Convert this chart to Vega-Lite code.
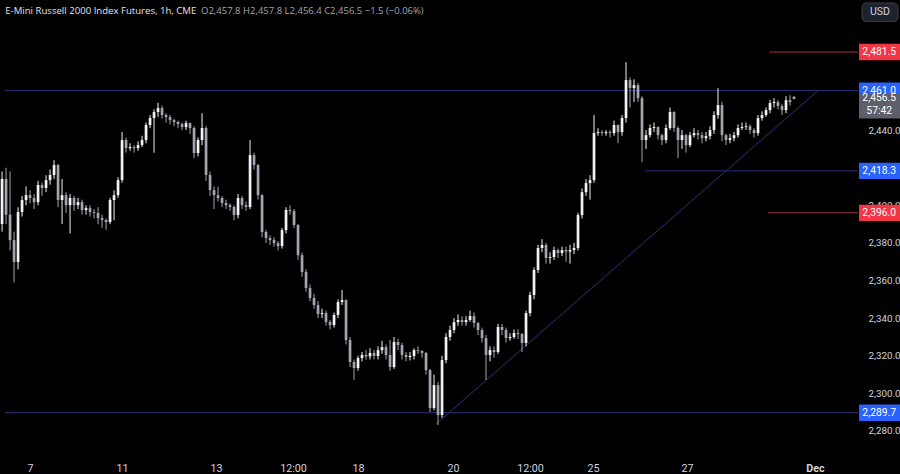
{
  "$schema": "https://vega.github.io/schema/vega-lite/v6.json",
  "width": 905,
  "height": 479,
  "autosize": {"type": "none"},
  "padding": 0,
  "background": "#000000",
  "config": {
    "view": {"stroke": null},
    "axis": {"grid": false, "domain": false, "ticks": false, "labelColor": "#d1d4dc", "labelFont": "Roboto", "labelFontSize": 9.8}
  },
  "datasets": {
    "candles": [
      {"i":0,"o":2390,"h":2418,"l":2386,"c":2414},
      {"i":1,"o":2414,"h":2420,"l":2390,"c":2395},
      {"i":2,"o":2395,"h":2418,"l":2376,"c":2381.5},
      {"i":3,"o":2381.5,"h":2386,"l":2359,"c":2369.8},
      {"i":4,"o":2369.8,"h":2399,"l":2366,"c":2396.4},
      {"i":5,"o":2396.4,"h":2405,"l":2394,"c":2402.8},
      {"i":6,"o":2402.8,"h":2410,"l":2400,"c":2405.4},
      {"i":7,"o":2405.4,"h":2408,"l":2401,"c":2403.9},
      {"i":8,"o":2403.9,"h":2406,"l":2398,"c":2401.7},
      {"i":9,"o":2401.7,"h":2413,"l":2400,"c":2410.8},
      {"i":10,"o":2410.8,"h":2412,"l":2405,"c":2409.2},
      {"i":11,"o":2409.2,"h":2416,"l":2407,"c":2413.4},
      {"i":12,"o":2413.4,"h":2419,"l":2411,"c":2416.1},
      {"i":13,"o":2416.1,"h":2424,"l":2414,"c":2421.4},
      {"i":14,"o":2421.4,"h":2422,"l":2399,"c":2402.8},
      {"i":15,"o":2402.8,"h":2414,"l":2390,"c":2405.4},
      {"i":16,"o":2405.4,"h":2407,"l":2396,"c":2400.1},
      {"i":17,"o":2400.1,"h":2406,"l":2385,"c":2403.9},
      {"i":18,"o":2403.9,"h":2405,"l":2397,"c":2400.1},
      {"i":19,"o":2400.1,"h":2404,"l":2398,"c":2401.7},
      {"i":20,"o":2401.7,"h":2403,"l":2395,"c":2397.5},
      {"i":21,"o":2397.5,"h":2400,"l":2395,"c":2398.5},
      {"i":22,"o":2398.5,"h":2400,"l":2394,"c":2396.4},
      {"i":23,"o":2396.4,"h":2398,"l":2393,"c":2395.9},
      {"i":24,"o":2395.9,"h":2399,"l":2390,"c":2393.2},
      {"i":25,"o":2393.2,"h":2395,"l":2388,"c":2392.2},
      {"i":26,"o":2392.2,"h":2393,"l":2387,"c":2391.1},
      {"i":27,"o":2391.1,"h":2404,"l":2390,"c":2402.8},
      {"i":28,"o":2402.8,"h":2408,"l":2392,"c":2405.4},
      {"i":29,"o":2405.4,"h":2415,"l":2404,"c":2413.4},
      {"i":30,"o":2413.4,"h":2439,"l":2412,"c":2434.7},
      {"i":31,"o":2434.7,"h":2436,"l":2428,"c":2430.4},
      {"i":32,"o":2430.4,"h":2433,"l":2429,"c":2431.0},
      {"i":33,"o":2431.0,"h":2432,"l":2428,"c":2430.4},
      {"i":34,"o":2430.4,"h":2434,"l":2429,"c":2432.0},
      {"i":35,"o":2432.0,"h":2437,"l":2431,"c":2434.7},
      {"i":36,"o":2434.7,"h":2444,"l":2433,"c":2442.7},
      {"i":37,"o":2442.7,"h":2448,"l":2441,"c":2446.4},
      {"i":38,"o":2446.4,"h":2451,"l":2428,"c":2449.6},
      {"i":39,"o":2449.6,"h":2454.5,"l":2447,"c":2451.7},
      {"i":40,"o":2451.7,"h":2453,"l":2446,"c":2448.0},
      {"i":41,"o":2448.0,"h":2449,"l":2444,"c":2446.9},
      {"i":42,"o":2446.9,"h":2448,"l":2443,"c":2445.3},
      {"i":43,"o":2445.3,"h":2446,"l":2442,"c":2444.3},
      {"i":44,"o":2444.3,"h":2445,"l":2441,"c":2443.2},
      {"i":45,"o":2443.2,"h":2444,"l":2440,"c":2441.6},
      {"i":46,"o":2441.6,"h":2445,"l":2440,"c":2443.7},
      {"i":47,"o":2443.7,"h":2444,"l":2438,"c":2441.1},
      {"i":48,"o":2441.1,"h":2442,"l":2425,"c":2427.8},
      {"i":49,"o":2427.8,"h":2436,"l":2426,"c":2434.7},
      {"i":50,"o":2434.7,"h":2449,"l":2432,"c":2441.1},
      {"i":51,"o":2441.1,"h":2442,"l":2413,"c":2416.1},
      {"i":52,"o":2416.1,"h":2418,"l":2405,"c":2408.1},
      {"i":53,"o":2408.1,"h":2410,"l":2398,"c":2405.4},
      {"i":54,"o":2405.4,"h":2410,"l":2402,"c":2403.9},
      {"i":55,"o":2403.9,"h":2405,"l":2399,"c":2401.2},
      {"i":56,"o":2401.2,"h":2403,"l":2398,"c":2400.1},
      {"i":57,"o":2400.1,"h":2401,"l":2397,"c":2399.1},
      {"i":58,"o":2399.1,"h":2400,"l":2392,"c":2394.8},
      {"i":59,"o":2394.8,"h":2406,"l":2393,"c":2403.9},
      {"i":60,"o":2403.9,"h":2405,"l":2398,"c":2400.1},
      {"i":61,"o":2400.1,"h":2402,"l":2397,"c":2399.1},
      {"i":62,"o":2399.1,"h":2434.7,"l":2398,"c":2426.7},
      {"i":63,"o":2426.7,"h":2428,"l":2419,"c":2421.4},
      {"i":64,"o":2421.4,"h":2422,"l":2403,"c":2405.4},
      {"i":65,"o":2405.4,"h":2406,"l":2383,"c":2385.8},
      {"i":66,"o":2385.8,"h":2387,"l":2380,"c":2382.6},
      {"i":67,"o":2382.6,"h":2384,"l":2379,"c":2381.5},
      {"i":68,"o":2381.5,"h":2383,"l":2378,"c":2379.9},
      {"i":69,"o":2379.9,"h":2381,"l":2376,"c":2378.3},
      {"i":70,"o":2378.3,"h":2388,"l":2377,"c":2386.8},
      {"i":71,"o":2386.8,"h":2399,"l":2385,"c":2397.5},
      {"i":72,"o":2397.5,"h":2400,"l":2395,"c":2396.9},
      {"i":73,"o":2396.9,"h":2398,"l":2388,"c":2389.5},
      {"i":74,"o":2389.5,"h":2390,"l":2371,"c":2373.5},
      {"i":75,"o":2373.5,"h":2375,"l":2362,"c":2364.5},
      {"i":76,"o":2364.5,"h":2366,"l":2354,"c":2356.0},
      {"i":77,"o":2356.0,"h":2358,"l":2349,"c":2350.7},
      {"i":78,"o":2350.7,"h":2353,"l":2345,"c":2347.0},
      {"i":79,"o":2347.0,"h":2349,"l":2340,"c":2342.2},
      {"i":80,"o":2342.2,"h":2345,"l":2340,"c":2342.7},
      {"i":81,"o":2342.7,"h":2344,"l":2336,"c":2337.9},
      {"i":82,"o":2337.9,"h":2339,"l":2334,"c":2336.3},
      {"i":83,"o":2336.3,"h":2343,"l":2335,"c":2341.7},
      {"i":84,"o":2341.7,"h":2350,"l":2340,"c":2348.6},
      {"i":85,"o":2348.6,"h":2355,"l":2347,"c":2349.6},
      {"i":86,"o":2349.6,"h":2350,"l":2326,"c":2328.4},
      {"i":87,"o":2328.4,"h":2330,"l":2314,"c":2316.7},
      {"i":88,"o":2316.7,"h":2318,"l":2307,"c":2313.5},
      {"i":89,"o":2313.5,"h":2320,"l":2312,"c":2318.8},
      {"i":90,"o":2318.8,"h":2322,"l":2317,"c":2320.4},
      {"i":91,"o":2320.4,"h":2323,"l":2318,"c":2319.6},
      {"i":92,"o":2319.6,"h":2324,"l":2318,"c":2321.5},
      {"i":93,"o":2321.5,"h":2323,"l":2318,"c":2319.9},
      {"i":94,"o":2319.9,"h":2325,"l":2318,"c":2323.0},
      {"i":95,"o":2323.0,"h":2328,"l":2321,"c":2324.6},
      {"i":96,"o":2324.6,"h":2326,"l":2318,"c":2320.4},
      {"i":97,"o":2320.4,"h":2328.4,"l":2312,"c":2314.0},
      {"i":98,"o":2314.0,"h":2330,"l":2313,"c":2327.3},
      {"i":99,"o":2327.3,"h":2329,"l":2323,"c":2325.7},
      {"i":100,"o":2325.7,"h":2327,"l":2318,"c":2320.4},
      {"i":101,"o":2320.4,"h":2322,"l":2317,"c":2319.3},
      {"i":102,"o":2319.3,"h":2322,"l":2317.5,"c":2319.9},
      {"i":103,"o":2319.9,"h":2324,"l":2318,"c":2323.0},
      {"i":104,"o":2323.0,"h":2325,"l":2321,"c":2322.5},
      {"i":105,"o":2322.5,"h":2323,"l":2319,"c":2321.5},
      {"i":106,"o":2321.5,"h":2322,"l":2310,"c":2312.4},
      {"i":107,"o":2312.4,"h":2313,"l":2290.1,"c":2292.2},
      {"i":108,"o":2292.2,"h":2310,"l":2291,"c":2304.4},
      {"i":109,"o":2304.4,"h":2306,"l":2283.2,"c":2288.5},
      {"i":110,"o":2288.5,"h":2320,"l":2287,"c":2317.7},
      {"i":111,"o":2317.7,"h":2332,"l":2316,"c":2330.0},
      {"i":112,"o":2330.0,"h":2336,"l":2328,"c":2333.7},
      {"i":113,"o":2333.7,"h":2340,"l":2332,"c":2337.9},
      {"i":114,"o":2337.9,"h":2342,"l":2336,"c":2339.0},
      {"i":115,"o":2339.0,"h":2341,"l":2336,"c":2337.9},
      {"i":116,"o":2337.9,"h":2341,"l":2336,"c":2339.0},
      {"i":117,"o":2339.0,"h":2344,"l":2338,"c":2341.1},
      {"i":118,"o":2341.1,"h":2343,"l":2335,"c":2337.4},
      {"i":119,"o":2337.4,"h":2338,"l":2331,"c":2333.7},
      {"i":120,"o":2333.7,"h":2335,"l":2327,"c":2329.4},
      {"i":121,"o":2329.4,"h":2331,"l":2307.1,"c":2320.4},
      {"i":122,"o":2320.4,"h":2325,"l":2317,"c":2323.0},
      {"i":123,"o":2323.0,"h":2325,"l":2319,"c":2322.0},
      {"i":124,"o":2322.0,"h":2337,"l":2321,"c":2335.3},
      {"i":125,"o":2335.3,"h":2337,"l":2331,"c":2333.7},
      {"i":126,"o":2333.7,"h":2335,"l":2327,"c":2329.4},
      {"i":127,"o":2329.4,"h":2332,"l":2328,"c":2330.0},
      {"i":128,"o":2330.0,"h":2334,"l":2329,"c":2332.1},
      {"i":129,"o":2332.1,"h":2334,"l":2329,"c":2331.6},
      {"i":130,"o":2331.6,"h":2332,"l":2322,"c":2326.8},
      {"i":131,"o":2326.8,"h":2344,"l":2325,"c":2342.7},
      {"i":132,"o":2342.7,"h":2354,"l":2341,"c":2352.3},
      {"i":133,"o":2352.3,"h":2367,"l":2350,"c":2365.6},
      {"i":134,"o":2365.6,"h":2379,"l":2364,"c":2377.3},
      {"i":135,"o":2377.3,"h":2382,"l":2375,"c":2378.9},
      {"i":136,"o":2378.9,"h":2380,"l":2369,"c":2372.0},
      {"i":137,"o":2372.0,"h":2375,"l":2369,"c":2372.5},
      {"i":138,"o":2372.5,"h":2378,"l":2371,"c":2376.2},
      {"i":139,"o":2376.2,"h":2377,"l":2372,"c":2374.6},
      {"i":140,"o":2374.6,"h":2378,"l":2373,"c":2376.2},
      {"i":141,"o":2376.2,"h":2378,"l":2370,"c":2375.4},
      {"i":142,"o":2375.4,"h":2379,"l":2369,"c":2376.2},
      {"i":143,"o":2376.2,"h":2380,"l":2374,"c":2377.3},
      {"i":144,"o":2377.3,"h":2396,"l":2376,"c":2394.8},
      {"i":145,"o":2394.8,"h":2409,"l":2393,"c":2407.0},
      {"i":146,"o":2407.0,"h":2414,"l":2405,"c":2411.8},
      {"i":147,"o":2411.8,"h":2416,"l":2403,"c":2413.4},
      {"i":148,"o":2413.4,"h":2448,"l":2412,"c":2438.4},
      {"i":149,"o":2438.4,"h":2441,"l":2437,"c":2438.9},
      {"i":150,"o":2438.9,"h":2440,"l":2437,"c":2438.4},
      {"i":151,"o":2438.4,"h":2440,"l":2437,"c":2438.9},
      {"i":152,"o":2438.9,"h":2440,"l":2436,"c":2438.4},
      {"i":153,"o":2438.4,"h":2445,"l":2437,"c":2442.7},
      {"i":154,"o":2442.7,"h":2443,"l":2433,"c":2438.9},
      {"i":155,"o":2438.9,"h":2448,"l":2437,"c":2446.4},
      {"i":156,"o":2446.4,"h":2476.1,"l":2444,"c":2466.6},
      {"i":157,"o":2466.6,"h":2468,"l":2452,"c":2462.3},
      {"i":158,"o":2462.3,"h":2467,"l":2455,"c":2463.9},
      {"i":159,"o":2463.9,"h":2465,"l":2455,"c":2457.0},
      {"i":160,"o":2457.0,"h":2458,"l":2423.0,"c":2434.7},
      {"i":161,"o":2434.7,"h":2440,"l":2430,"c":2437.3},
      {"i":162,"o":2437.3,"h":2443,"l":2436,"c":2441.1},
      {"i":163,"o":2441.1,"h":2444,"l":2439,"c":2441.6},
      {"i":164,"o":2441.6,"h":2442,"l":2435,"c":2437.3},
      {"i":165,"o":2437.3,"h":2438,"l":2432,"c":2434.7},
      {"i":166,"o":2434.7,"h":2443,"l":2433,"c":2441.1},
      {"i":167,"o":2441.1,"h":2452,"l":2440,"c":2449.6},
      {"i":168,"o":2449.6,"h":2450,"l":2439,"c":2441.1},
      {"i":169,"o":2441.1,"h":2442,"l":2425.1,"c":2434.7},
      {"i":170,"o":2434.7,"h":2440,"l":2430,"c":2437.3},
      {"i":171,"o":2437.3,"h":2438,"l":2428,"c":2432.0},
      {"i":172,"o":2432.0,"h":2439,"l":2431,"c":2437.3},
      {"i":173,"o":2437.3,"h":2441,"l":2436,"c":2438.4},
      {"i":174,"o":2438.4,"h":2440,"l":2435,"c":2437.3},
      {"i":175,"o":2437.3,"h":2439,"l":2433,"c":2435.7},
      {"i":176,"o":2435.7,"h":2439,"l":2434,"c":2436.8},
      {"i":177,"o":2436.8,"h":2442,"l":2435,"c":2440.0},
      {"i":178,"o":2440.0,"h":2450,"l":2438,"c":2448.0},
      {"i":179,"o":2448.0,"h":2462.3,"l":2446,"c":2453.3},
      {"i":180,"o":2453.3,"h":2455,"l":2434,"c":2437.3},
      {"i":181,"o":2437.3,"h":2438,"l":2432,"c":2434.7},
      {"i":182,"o":2434.7,"h":2438,"l":2433,"c":2435.7},
      {"i":183,"o":2435.7,"h":2439,"l":2434,"c":2437.3},
      {"i":184,"o":2437.3,"h":2443,"l":2436,"c":2441.1},
      {"i":185,"o":2441.1,"h":2444,"l":2440,"c":2441.6},
      {"i":186,"o":2441.6,"h":2444,"l":2440,"c":2442.0},
      {"i":187,"o":2442.0,"h":2443,"l":2438,"c":2440.0},
      {"i":188,"o":2440.0,"h":2441,"l":2436,"c":2438.4},
      {"i":189,"o":2438.4,"h":2448,"l":2437,"c":2446.4},
      {"i":190,"o":2446.4,"h":2450,"l":2445,"c":2448.0},
      {"i":191,"o":2448.0,"h":2452,"l":2447,"c":2450.6},
      {"i":192,"o":2450.6,"h":2456,"l":2449,"c":2454.4},
      {"i":193,"o":2454.4,"h":2457,"l":2452,"c":2454.9},
      {"i":194,"o":2454.9,"h":2456,"l":2451,"c":2452.8},
      {"i":195,"o":2452.8,"h":2454,"l":2448,"c":2450.6},
      {"i":196,"o":2450.6,"h":2458,"l":2449,"c":2455.9},
      {"i":197,"o":2455.9,"h":2458.5,"l":2453,"c":2454.9},
      {"i":198,"o":2457.8,"h":2457.8,"l":2456.4,"c":2456.5}
    ],
    "levels": [
      {"kind": "level", "x1": 0.736, "x2": 214, "p1": 2461.0, "p2": 2461.0},
      {"kind": "level", "x1": 0.736, "x2": 214, "p1": 2289.7, "p2": 2289.7},
      {"kind": "level", "x1": 160.75, "x2": 214, "p1": 2418.3, "p2": 2418.3},
      {"kind": "level", "x1": 108.5, "x2": 204, "p1": 2283.7, "p2": 2461.0},
      {"kind": "target", "x1": 192, "x2": 214, "p1": 2481.5, "p2": 2481.5},
      {"kind": "target", "x1": 191.5, "x2": 214, "p1": 2396.0, "p2": 2396.0}
    ],
    "tags": [
      {"kind": "target", "price": 2481.5},
      {"kind": "level", "price": 2461.0},
      {"kind": "level", "price": 2418.3},
      {"kind": "target", "price": 2396.0},
      {"kind": "level", "price": 2289.7}
    ],
    "last": [
      {"price": 2456.5, "mid": 2453.0, "countdown": "57:42"}
    ]
  },
  "layer": [
    {
      "data": {"name": "levels"},
      "mark": {"type": "rule", "strokeWidth": 1},
      "encoding": {
        "x": {"field": "x1", "type": "quantitative", "scale": {"domain": [0.736, 224.5], "nice": false, "zero": false},
              "title": null,
              "axis": {"values": [7, 30, 53.5, 72.75, 89, 112.75, 132, 147.75, 171.25, 203.25],
                       "labelExpr": "datum.value==7?'7':datum.value==30?'11':datum.value==53.5?'13':datum.value==72.75?'12:00':datum.value==89?'18':datum.value==112.75?'20':datum.value==132?'12:00':datum.value==147.75?'25':datum.value==171.25?'27':datum.value==203.25?'Dec':''",
                       "labelFontWeight": {"expr": "datum.value==203.25?'bold':'normal'"},
                       "offset": -15.3, "labelPadding": 0, "labelFontSize": 10.7, "labelFlush": false, "labelOverlap": false}},
        "x2": {"field": "x2"},
        "y": {"field": "p1", "type": "quantitative", "scale": {"domain": [2257.13, 2506.51], "nice": false, "zero": false},
              "title": null,
              "axis": {"orient": "right", "values": [2280, 2300, 2320, 2340, 2360, 2380, 2400, 2420, 2440], "format": ",.1f", "offset": -37, "labelPadding": 0, "labelOverlap": false}},
        "y2": {"field": "p2"},
        "color": {"field": "kind", "type": "nominal", "scale": {"domain": ["level", "target"], "range": ["#2b3278", "#a8303b"]}, "legend": null}
      }
    },
    {
      "data": {"name": "candles"},
      "mark": {"type": "rule", "strokeWidth": 1},
      "encoding": {
        "x": {"field": "i", "type": "quantitative", "title": null},
        "y": {"field": "l", "type": "quantitative", "title": null},
        "y2": {"field": "h"},
        "color": {"condition": {"test": "datum.c >= datum.o", "value": "#f2f2f2"}, "value": "#a3a6ae"}
      }
    },
    {
      "data": {"name": "candles"},
      "mark": {"type": "bar", "size": 2.7, "orient": "vertical"},
      "encoding": {
        "x": {"field": "i", "type": "quantitative", "title": null},
        "y": {"field": "o", "type": "quantitative", "title": null},
        "y2": {"field": "c"},
        "color": {"condition": {"test": "datum.c >= datum.o", "value": "#f2f2f2"}, "value": "#a3a6ae"}
      }
    },
    {
      "data": {"name": "tags"},
      "mark": {"type": "bar", "orient": "horizontal", "size": 16.4},
      "encoding": {
        "x": {"datum": 214.25, "type": "quantitative", "title": null},
        "x2": {"datum": 224.5},
        "y": {"field": "price", "type": "quantitative", "title": null},
        "fill": {"field": "kind", "type": "nominal", "scale": {"domain": ["level", "target"], "range": ["#2962ff", "#f23645"]}, "legend": null}
      }
    },
    {
      "data": {"name": "tags"},
      "mark": {"type": "text", "align": "center", "baseline": "middle", "font": "Roboto", "fontSize": 10.3, "color": "#ffffff"},
      "encoding": {
        "x": {"datum": 219.3, "type": "quantitative", "title": null},
        "y": {"field": "price", "type": "quantitative", "title": null},
        "text": {"field": "price", "type": "quantitative", "format": ",.1f"}
      }
    },
    {
      "data": {"name": "last"},
      "mark": {"type": "bar", "orient": "horizontal", "size": 25.5, "color": "#5d606b"},
      "encoding": {
        "x": {"datum": 214.25, "type": "quantitative", "title": null},
        "x2": {"datum": 224.5},
        "y": {"field": "mid", "type": "quantitative", "title": null}
      }
    },
    {
      "data": {"name": "last"},
      "mark": {"type": "text", "align": "center", "baseline": "middle", "font": "Roboto", "fontSize": 10.3, "color": "#ffffff", "dy": -1},
      "encoding": {
        "x": {"datum": 219.3, "type": "quantitative", "title": null},
        "y": {"field": "price", "type": "quantitative", "title": null},
        "text": {"field": "price", "type": "quantitative", "format": ",.1f"}
      }
    },
    {
      "data": {"name": "last"},
      "mark": {"type": "text", "align": "center", "baseline": "middle", "font": "Roboto", "fontSize": 10.3, "color": "#ffffff", "dy": 12.3},
      "encoding": {
        "x": {"datum": 219.3, "type": "quantitative", "title": null},
        "y": {"field": "price", "type": "quantitative", "title": null},
        "text": {"field": "countdown"}
      }
    },
    {
      "data": {"values": [{}]},
      "mark": {"type": "bar", "orient": "horizontal", "size": 18.4, "color": "#1e222d", "stroke": "#3a3e4a", "strokeWidth": 1, "cornerRadius": 4},
      "encoding": {
        "x": {"datum": 215.0, "type": "quantitative", "title": null},
        "x2": {"datum": 224.0},
        "y": {"datum": 2502.7, "type": "quantitative", "title": null}
      }
    },
    {
      "data": {"values": [{}]},
      "mark": {"type": "text", "align": "center", "baseline": "middle", "font": "Roboto", "fontSize": 10.5, "color": "#d1d4dc", "text": "USD"},
      "encoding": {
        "x": {"datum": 219.5, "type": "quantitative", "title": null},
        "y": {"datum": 2502.7, "type": "quantitative", "title": null}
      }
    },
    {
      "data": {"values": [{}]},
      "mark": {"type": "text", "align": "left", "baseline": "middle", "font": "Open Sans", "fontSize": 9.6, "color": "#e0e3eb", "text": "E-Mini Russell 2000 Index Futures, 1h, CME"},
      "encoding": {
        "x": {"datum": 0.8, "type": "quantitative", "title": null},
        "y": {"datum": 2503.3, "type": "quantitative", "title": null}
      }
    },
    {
      "data": {"values": [{}]},
      "mark": {"type": "text", "align": "left", "baseline": "middle", "font": "Open Sans", "fontSize": 9.5, "color": "#a3a6ae", "text": "O2,457.8  H2,457.8  L2,456.4  C2,456.5  −1.5 (−0.06%)"},
      "encoding": {
        "x": {"datum": 49.75, "type": "quantitative", "title": null},
        "y": {"datum": 2503.3, "type": "quantitative", "title": null}
      }
    }
  ]
}
